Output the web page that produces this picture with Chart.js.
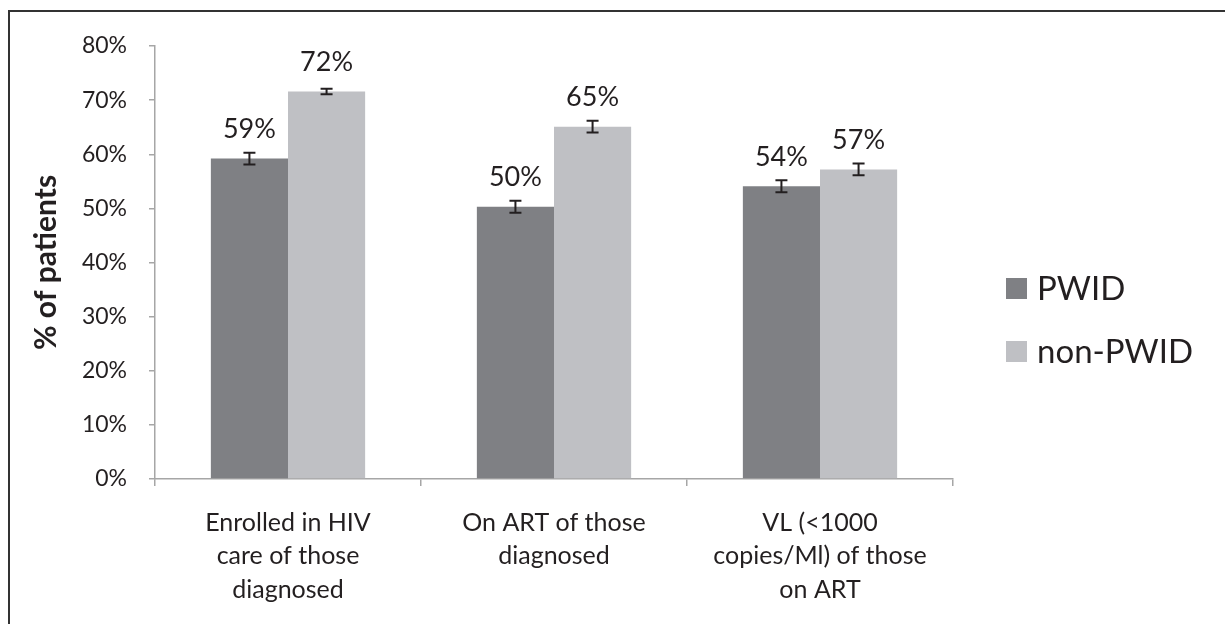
<!DOCTYPE html>
<html>
<head>
<meta charset="utf-8">
<script src="https://cdn.jsdelivr.net/npm/chart.js@4/dist/chart.umd.min.js"></script>
<style>
  html, body { margin: 0; padding: 0; background: #fff; }
  #wrap { position: relative; width: 1225px; height: 624px; overflow: hidden; }
  #frame { position: absolute; left: 8px; top: 10px; width: 1300px; height: 700px;
           border-left: 2px solid #333; border-top: 2px solid #333; }
  #c { position: absolute; left: 0; top: 0; }
</style>
</head>
<body>
<div id="wrap">
  <div id="frame"></div>
  <canvas id="c" width="1225" height="624"></canvas>
</div>
<script>
// chart data
var categories = [
  ["Enrolled in HIV", "care of those", "diagnosed"],
  ["On ART of those", "diagnosed"],
  ["VL (<1000", "copies/Ml) of those", "on ART"]
];
var seriesNames = ["PWID", "non-PWID"];
var pwid = [59.2, 50.3, 54.1];
var nonPwid = [71.6, 65.1, 57.2];
var pwidErr = [1.1, 1.1, 1.1];
var nonPwidErr = [0.5, 1.1, 1.1];
var yTicks = [0, 10, 20, 30, 40, 50, 60, 70, 80];

var txt = "#231f20";
var axisCol = "#a6a6a6";
var fontFam = "Lato, 'Open Sans', sans-serif";

// error bars + value labels
var errPlugin = {
  id: "errLabels",
  afterDatasetsDraw: function(chart) {
    var ctx = chart.ctx;
    var y = chart.scales.y;
    chart.data.datasets.forEach(function(ds, di) {
      var meta = chart.getDatasetMeta(di);
      meta.data.forEach(function(bar, i) {
        var v = ds.data[i], e = ds.errors[i];
        var top = y.getPixelForValue(v + e), bot = y.getPixelForValue(v - e);
        ctx.save();
        ctx.strokeStyle = txt;
        ctx.lineWidth = 2;
        ctx.beginPath();
        ctx.moveTo(bar.x, top); ctx.lineTo(bar.x, bot);
        ctx.moveTo(bar.x - 6, top); ctx.lineTo(bar.x + 6, top);
        ctx.moveTo(bar.x - 6, bot); ctx.lineTo(bar.x + 6, bot);
        ctx.stroke();
        ctx.fillStyle = txt;
        ctx.font = "27px " + fontFam;
        ctx.textAlign = "center";
        ctx.textBaseline = "middle";
        ctx.fillText(Math.round(v) + "%", bar.x, bar.y - 29);
        ctx.restore();
      });
    });
  }
};

// legend on the right
var legendPlugin = {
  id: "sideLegend",
  afterDraw: function(chart) {
    var ctx = chart.ctx;
    chart.data.datasets.forEach(function(ds, i) {
      var cy = 288 + i * 63;
      ctx.save();
      ctx.fillStyle = ds.backgroundColor;
      ctx.fillRect(1006, cy - 10, 21, 21);
      ctx.fillStyle = txt;
      ctx.font = "33px " + fontFam;
      ctx.textBaseline = "middle";
      ctx.fillText(ds.label, 1037, cy + 1);
      ctx.restore();
    });
  }
};

new Chart(document.getElementById("c"), {
  type: "bar",
  data: {
    labels: categories,
    datasets: [
      { label: seriesNames[0], data: pwid, errors: pwidErr, backgroundColor: "#7f8084",
        categoryPercentage: 0.58, barPercentage: 1.0 },
      { label: seriesNames[1], data: nonPwid, errors: nonPwidErr, backgroundColor: "#bfc0c4",
        categoryPercentage: 0.58, barPercentage: 1.0 }
    ]
  },
  options: {
    responsive: false,
    animation: false,
    layout: { padding: { left: 0, top: 46, right: 272, bottom: 0 } },
    plugins: { legend: { display: false }, tooltip: { enabled: false } },
    scales: {
      x: {
        grid: { offset: true, drawOnChartArea: false, color: axisCol, tickLength: 7, lineWidth: 1.5 },
        border: { color: axisCol, width: 1.5 },
        ticks: { color: txt, font: { family: fontFam, size: 25, lineHeight: 1.34 }, padding: 20, maxRotation: 0 },
        afterFit: function(s) { s.height = 145; }
      },
      y: {
        min: 0, max: 80,
        afterBuildTicks: function(s) { s.ticks = yTicks.map(function(v) { return { value: v }; }); },
        grid: { drawOnChartArea: false, color: axisCol, tickLength: 6, lineWidth: 1.5 },
        border: { color: axisCol, width: 1.5 },
        ticks: { color: txt, font: { family: fontFam, size: 23 }, padding: 22,
                 callback: function(v) { return v + "%"; } },
        title: { display: true, text: "% of patients", color: txt,
                 font: { family: fontFam, size: 30, weight: "bold" }, padding: { top: 28 } },
        afterFit: function(s) { s.width = 155; }
      }
    }
  },
  plugins: [errPlugin, legendPlugin]
});
</script>
</body>
</html>
